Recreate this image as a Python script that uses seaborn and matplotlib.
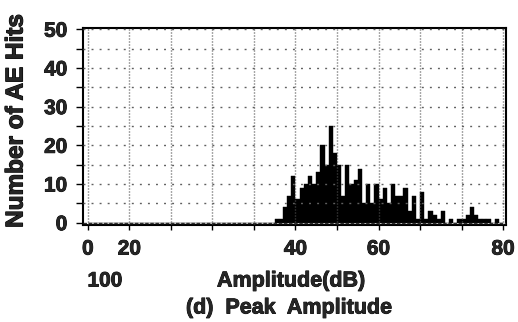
import numpy as np
import pandas as pd
import matplotlib
matplotlib.use("Agg")
import matplotlib.pyplot as plt
import matplotlib.patheffects as pe
import seaborn as sns

# ---- data ----
amplitude_db = list(range(45, 100))
hits = [1, 1, 4, 7, 12, 6, 9, 10, 12, 10,
        13, 20, 15, 25, 18, 15, 7, 15, 10, 11,
        14, 5, 10, 5, 10, 6, 9, 5, 10, 7,
        7, 9, 3, 7, 1, 8, 1, 3, 2, 1,
        3, 0, 1, 0, 1, 1, 2, 4, 2, 1,
        1, 1, 0, 1, 0]
xtick_values = [0, 10, 20, 30, 40, 50, 60, 70, 80, 90, 100]
xtick_labels = ["0", "20", "", "", "", "40", "", "60", "", "", "80"]
ytick_values = [0, 10, 20, 30, 40, 50]
ytick_minor = [5, 15, 25, 35, 45]
extra_label = "100"
xlabel = "Amplitude(dB)"
ylabel = "Number of AE Hits"
title = "(d)  Peak  Amplitude"

df = pd.DataFrame({"amp": amplitude_db, "hits": hits})

sns.set_theme(style="white")
plt.rcParams["font.family"] = ["Liberation Sans", "DejaVu Sans"]
plt.rcParams["font.weight"] = "bold"
plt.rcParams["lines.scale_dashes"] = False

W, H = 518, 322
fig = plt.figure(figsize=(W / 100, H / 100), dpi=100)
ax = fig.add_axes([83.3 / W, 1 - 225 / H, (506 - 83.3) / W, (225 - 27.7) / H])

sns.histplot(data=df, x="amp", weights="hits", binwidth=1, binrange=(0, 100),
             color="black", alpha=1, edgecolor="black", linewidth=0.3, ax=ax, zorder=2)

ax.set_xlim(-1.1, 100.7)
ax.set_ylim(-0.6, 50.4)

# grid
for v in ytick_values[1:] + ytick_minor:
    ax.axhline(v, color="#606060", lw=1.0, ls=(0, (1.4, 4.4)), zorder=3)
for v in xtick_values:
    ax.axvline(v, color="#505050", lw=1.0, ls=(0, (0.72, 1.44)), zorder=3)
ax.axhline(0, color="#303030", lw=1.0, ls=(0, (2.5, 1.2)), zorder=3)

stroke = [pe.withStroke(linewidth=0.6, foreground="black")]

ax.set_xticks(xtick_values)
ax.set_xticklabels(xtick_labels)
ax.set_yticks(ytick_values)
ax.set_yticks(ytick_minor, minor=True)
ax.tick_params(axis="both", which="both", direction="out", length=5, width=1,
               color="black", labelsize=15, bottom=True, left=True)
ax.tick_params(axis="x", length=3.5, pad=7)
ax.tick_params(axis="y", pad=6.5)
for lab in ax.get_xticklabels() + ax.get_yticklabels():
    lab.set_fontweight("bold")
    lab.set_path_effects(stroke)

ax.set_xlabel("")
ax.set_ylabel("")
for s in ax.spines.values():
    s.set_color("black")
    s.set_linewidth(1.5)
    s.set_visible(True)

fig.text(105 / W, 1 - 281 / H, extra_label, ha="center", va="center",
         fontsize=15, fontweight="bold", path_effects=stroke)
fig.text(291 / W, 1 - 281 / H, xlabel, ha="center", va="center",
         fontsize=15.5, fontweight="bold", path_effects=stroke)
fig.text(289 / W, 1 - 308 / H, title, ha="center", va="center",
         fontsize=15.5, fontweight="bold", path_effects=stroke)
fig.text(16 / W, 1 - 121 / H, ylabel, ha="center", va="center", rotation=90,
         fontsize=17.5, fontweight="bold",
         path_effects=[pe.withStroke(linewidth=0.8, foreground="black")])

fig.savefig("out.png", dpi=100, facecolor="white")
